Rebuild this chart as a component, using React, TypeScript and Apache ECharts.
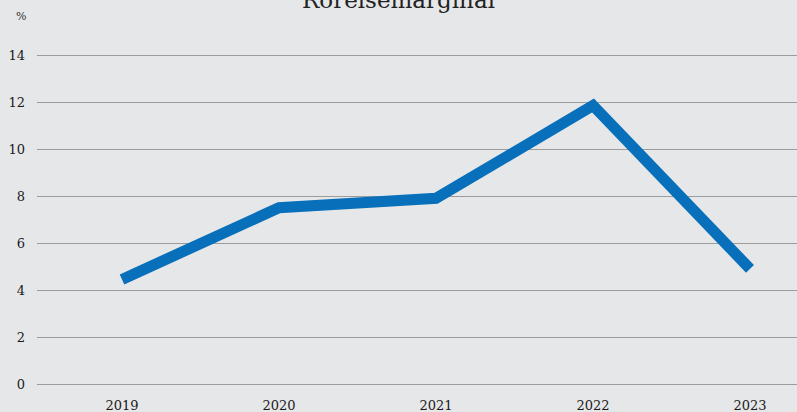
import React, { useEffect, useRef } from "react";
import * as echarts from "echarts";

const years = [2019, 2020, 2021, 2022, 2023];
const margin = [4.45, 7.5, 7.9, 11.85, 4.9];
const yTicks = [0, 2, 4, 6, 8, 10, 12, 14];
const title = "Rörelsemarginal";
const unit = "%";

export default function App() {
  const ref = useRef<HTMLDivElement>(null);
  useEffect(() => {
    document.body.style.margin = "0";
    const chart = echarts.init(ref.current!, null, { renderer: "svg" });
    const font = "'DejaVu Serif', serif";
    chart.setOption({
      animation: false,
      backgroundColor: "#e6e7e9",
      title: {
        text: title,
        left: "center",
        top: -17,
        textStyle: { fontFamily: font, fontSize: 23, fontWeight: "normal", color: "#222" },
      },
      graphic: [
        {
          type: "text",
          left: 16,
          top: 11,
          style: { text: unit, fontFamily: font, fontSize: 11, fill: "#333" },
        },
      ],
      grid: { left: 37, right: 0, top: 55, bottom: 28, containLabel: false },
      xAxis: {
        type: "value",
        min: 2018.4586,
        max: 2023.2994,
        splitLine: { show: false },
        axisLine: { show: false },
        axisTick: { show: false },
        axisLabel: {
          customValues: years,
          formatter: (v: number) => String(Math.round(v)),
          fontFamily: font,
          fontSize: 13,
          color: "#1a1a1a",
          margin: 15,
        },
      },
      yAxis: {
        type: "value",
        min: 0,
        max: 14,
        interval: 2,
        axisLine: { show: false },
        axisTick: { show: false },
        splitLine: { lineStyle: { color: "#9c9c9c", width: 1 } },
        axisLabel: {
          customValues: yTicks,
          fontFamily: font,
          fontSize: 13,
          color: "#1a1a1a",
          margin: 12,
        },
      },
      series: [
        {
          type: "line",
          data: years.map((y, i) => [y, margin[i]]),
          showSymbol: false,
          lineStyle: { color: "#0870bb", width: 11, cap: "butt", join: "miter" },
          itemStyle: { color: "#0870bb" },
        },
      ],
    });
    return () => chart.dispose();
  }, []);
  return <div ref={ref} style={{ width: 797, height: 412 }} />;
}
